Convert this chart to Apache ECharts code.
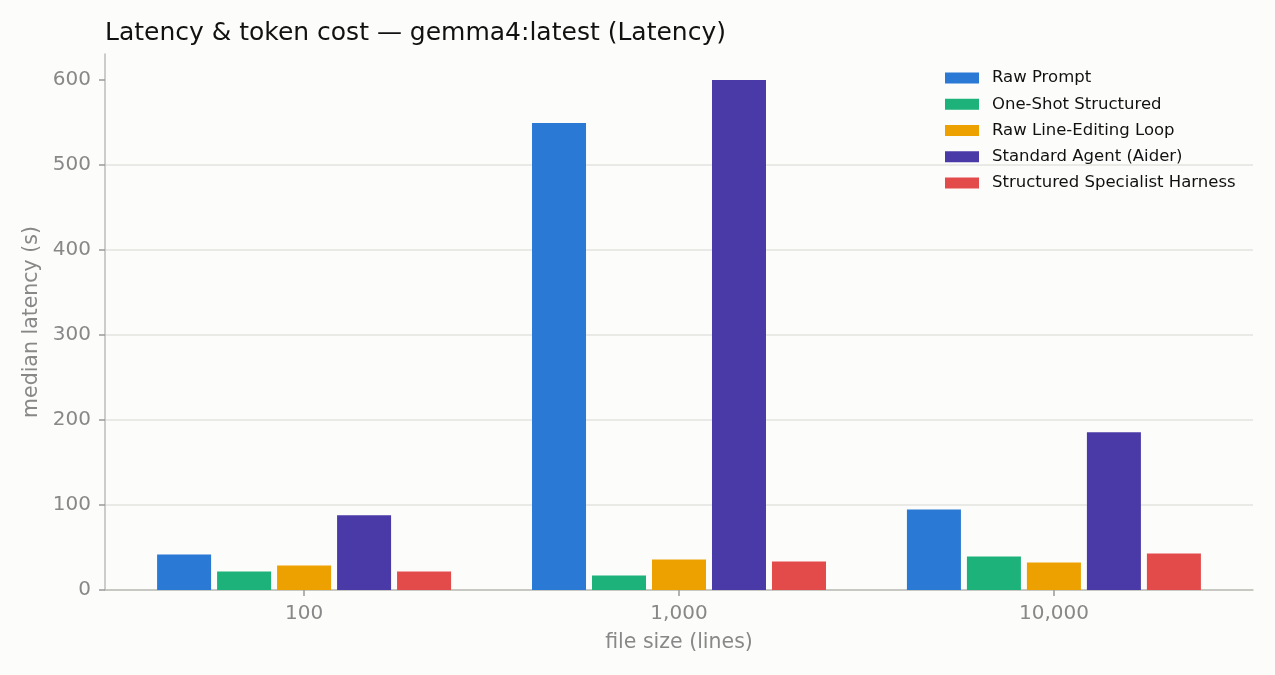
<!DOCTYPE html>
<html>
<head>
<meta charset="utf-8">
<style>
    html, body { margin: 0; padding: 0; background: #fcfcfa; }
    #chart { width: 1275px; height: 675px; }
</style>
<script src="https://cdn.jsdelivr.net/npm/echarts@6/dist/echarts.min.js"></script>
</head>
<body>
<div id="chart"></div>
<script>
// file sizes (x categories) and median latency per approach, seconds
const fileSizes = ['100', '1,000', '10,000'];
const seriesNames = [
    'Raw Prompt',
    'One-Shot Structured',
    'Raw Line-Editing Loop',
    'Standard Agent (Aider)',
    'Structured Specialist Harness',
];
const rawPrompt = [41.8, 549.5, 94.8];
const oneShot = [21.8, 17.1, 39.5];
const lineEditLoop = [28.9, 35.9, 32.4];
const aiderAgent = [87.8, 600, 185.5];
const specialistHarness = [21.8, 33.6, 43.0];
const yTicks = [0, 100, 200, 300, 400, 500, 600];

const colors = ['#2979d5', '#1db27a', '#eda100', '#4a3aa7', '#e34a4a'];
const allValues = [rawPrompt, oneShot, lineEditLoop, aiderAgent, specialistHarness];

const gray = '#888888';
const font = 'DejaVu Sans';

const chart = echarts.init(document.getElementById('chart'));

const series = seriesNames.map((name, i) => ({
    name,
    type: 'bar',
    barWidth: 54,
    barGap: '11.1%',
    itemStyle: { color: colors[i] },
    // category index is used as x position on the value axis
    data: allValues[i].map((v, idx) => [idx, v]),
}));

const option = {
    backgroundColor: '#fcfcfa',
    animation: false,
    textStyle: { fontFamily: font },
    title: {
        text: 'Latency & token cost — gemma4:latest (Latency)',
        left: 105,
        top: 21,
        padding: 0,
        textStyle: { fontFamily: font, fontSize: 25, fontWeight: 'normal', color: '#111111' },
    },
    grid: {
        left: 105,
        right: 22,
        top: 54,
        bottom: 85,
    },
    legend: {
        orient: 'vertical',
        left: 945,
        top: 69,
        padding: 0,
        icon: 'rect',
        itemWidth: 34,
        itemHeight: 11,
        itemGap: 8.25,
        textStyle: { fontFamily: font, fontSize: 16.5, color: '#111111', lineHeight: 18, padding: [0, 0, 0, 8] },
        data: seriesNames,
    },
    xAxis: {
        type: 'value',
        min: -0.531,
        max: 2.531,
        name: 'file size (lines)',
        nameLocation: 'middle',
        nameGap: 42,
        nameTextStyle: { fontFamily: font, fontSize: 20.5, color: gray },
        axisLine: { show: true, onZero: false, lineStyle: { color: '#bdbdb8', width: 1.5 } },
        axisTick: { show: true, length: 6, customValues: [0, 1, 2], lineStyle: { color: '#999999', width: 1.5 } },
        axisLabel: {
            customValues: [0, 1, 2],
            formatter: v => fileSizes[Math.round(v)],
            margin: 14,
            fontFamily: font,
            fontSize: 20,
            color: gray,
        },
        splitLine: { show: false },
    },
    yAxis: {
        type: 'value',
        min: 0,
        max: 630.6,
        name: 'median latency (s)',
        nameLocation: 'middle',
        nameGap: 62,
        nameTextStyle: { fontFamily: font, fontSize: 20.5, color: gray },
        axisLine: { show: true, onZero: false, lineStyle: { color: '#bdbdb8', width: 1.5 } },
        axisTick: { show: true, length: 6, customValues: yTicks, lineStyle: { color: '#999999', width: 1.5 } },
        axisLabel: {
            customValues: yTicks,
            margin: 14,
            fontFamily: font,
            fontSize: 20,
            color: gray,
        },
        interval: 100,
        splitLine: {
            show: true,
            showMaxLine: false,
            lineStyle: { color: '#e3e3df', width: 1.5 },
        },
    },
    series,
};

chart.setOption(option);
</script>
</body>
</html>
